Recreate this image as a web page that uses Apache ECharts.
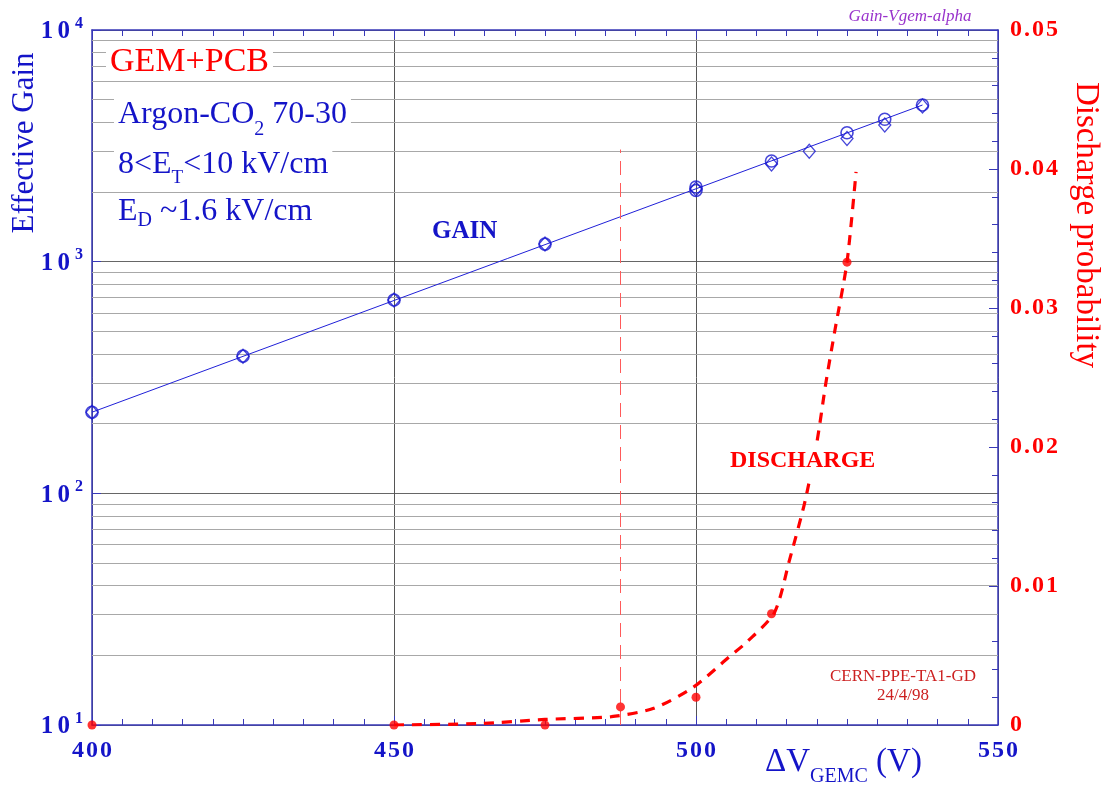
<!DOCTYPE html>
<html><head><meta charset="utf-8">
<script src="https://cdn.jsdelivr.net/npm/echarts@6/dist/echarts.min.js"></script>
<style>html,body{margin:0;padding:0;background:#fff}#c{width:1104px;height:792px}</style>
</head><body><div id="c"></div>
<script>
// ---- data ----
const gainCircleX = [400, 425, 450, 475, 500, 500, 512.5, 525, 531.25, 537.5];
const gainCircleY = [224, 391, 683, 1191, 2100, 2030, 2720, 3600, 4120, 4745];
const gainDiamondX = [400, 425, 450, 475, 500, 512.5, 518.75, 525, 531.25, 537.5];
const gainDiamondY = [224, 391, 683, 1191, 2060, 2640, 3000, 3400, 3890, 4700];
const gainFitX = [400, 537.5];
const gainFitY = [224, 4745];
const dischargeX = [400, 450, 475, 487.5, 500, 512.5, 525];
const dischargeY = [0, 0, 0, 0.0013, 0.002, 0.008, 0.0333];
const dischargeFitX = [450, 464, 475, 486, 493, 499.5, 505.5, 508.5, 513, 515.5, 518, 520, 521.5, 523, 525, 526.5];
const dischargeFitY = [0, 0.0001, 0.0004, 0.0006, 0.0012, 0.0027, 0.0049, 0.006, 0.0081, 0.0119, 0.016, 0.0203, 0.0246, 0.0284, 0.0333, 0.0398];
const thresholdX = 487.5;
const thresholdTop = 0.0414;
const xTicks = [400, 450, 500, 550];
const gainDecades = [10, 100, 1000, 10000];
const minorMultipliers = [2, 3, 4, 5, 6, 7, 8, 9];
const dischargeTicks = [0, 0.01, 0.02, 0.03, 0.04, 0.05];

const zip = (a, b) => a.map((v, i) => [v, b[i]]);
const minorGrid = [];
gainDecades.slice(0, 3).forEach(d => minorMultipliers.forEach(m => minorGrid.push(d * m)));

const BLUE = '#1414c8';
const AXIS = '#3838b8';
const RED = '#ff0000';
const SERIF = '"Liberation Serif", "Times New Roman", serif';
const HS = '\u200A';
const spaced = s => s.split('').join(HS);

const chart = echarts.init(document.getElementById('c'), null, {renderer: 'canvas'});
chart.setOption({
  animation: false,
  backgroundColor: '#fff',
  grid: {left: 92, right: 106, top: 30, bottom: 67, containLabel: false, outerBoundsMode: 'none'},
  xAxis: [{
    type: 'value', position: 'bottom', min: xTicks[0], max: xTicks[xTicks.length - 1], interval: 50,
    axisLine: {show: true, lineStyle: {color: AXIS, width: 1.5}},
    axisTick: {show: true, inside: true, length: 9, lineStyle: {color: AXIS}},
    minorTick: {show: true, splitNumber: 10, length: 6, lineStyle: {color: AXIS}},
    splitLine: {show: true, lineStyle: {color: '#555', width: 1}},
    axisLabel: {show: true, showMinLabel: true, showMaxLabel: true, margin: 14, color: BLUE,
      fontFamily: SERIF, fontWeight: 'bold', fontSize: 24,
      formatter: v => spaced(String(v))}
  }, {
    type: 'value', position: 'top', min: xTicks[0], max: xTicks[xTicks.length - 1], interval: 50,
    axisLine: {show: true, lineStyle: {color: AXIS, width: 1.5}},
    axisTick: {show: true, inside: true, length: 9, lineStyle: {color: AXIS}},
    minorTick: {show: true, splitNumber: 10, length: 6, lineStyle: {color: AXIS}},
    splitLine: {show: false},
    axisLabel: {show: false}
  }],
  yAxis: [{
    type: 'log', logBase: 10, min: gainDecades[0], max: gainDecades[gainDecades.length - 1], position: 'left',
    axisLine: {show: true, lineStyle: {color: AXIS, width: 1.5}},
    axisTick: {show: true, inside: true, length: 9, lineStyle: {color: AXIS}},
    splitLine: {show: true, lineStyle: {color: '#666', width: 1}},
    axisLabel: {show: true, showMinLabel: true, showMaxLabel: true, margin: 9,
      formatter: v => '{b|1' + HS + HS + '0}{s|' + Math.round(Math.log10(v)) + '}',
      rich: {
        b: {fontFamily: SERIF, fontWeight: 'bold', fontSize: 25, color: BLUE, verticalAlign: 'bottom'},
        s: {fontFamily: SERIF, fontWeight: 'bold', fontSize: 16, color: BLUE, verticalAlign: 'bottom', padding: [0, 0, 13, 5]}
      }}
  }, {
    type: 'value', min: 0, max: 0.05, interval: 0.01, position: 'right',
    axisLine: {show: true, lineStyle: {color: AXIS, width: 1.5}},
    axisTick: {show: true, inside: true, length: 9, lineStyle: {color: AXIS}},
    minorTick: {show: true, splitNumber: 5, length: 6, lineStyle: {color: AXIS}},
    splitLine: {show: false},
    axisLabel: {show: true, showMinLabel: true, showMaxLabel: true, margin: 12, color: RED,
      fontFamily: SERIF, fontWeight: 'bold', fontSize: 24,
      formatter: v => v === 0 ? '0' : spaced(v.toFixed(2))}
  }],
  series: [{
    name: 'minor-grid', type: 'line', xAxisIndex: 0, yAxisIndex: 0, z: 1, silent: true,
    data: [[gainFitX[0], gainFitY[0]]], symbol: 'none', lineStyle: {width: 0, opacity: 0},
    markLine: {z: 1, silent: true, symbol: ['none', 'none'], label: {show: false},
      lineStyle: {color: '#a8a8a8', width: 1, type: 'solid'},
      emphasis: {disabled: true},
      data: minorGrid.map(v => ({yAxis: v}))}
  }, {
    name: 'gain-fit', type: 'line', xAxisIndex: 0, yAxisIndex: 0, z: 3,
    data: zip(gainFitX, gainFitY), symbol: 'none',
    lineStyle: {color: '#2020d8', width: 1}
  }, {
    name: 'gain-circle', type: 'scatter', xAxisIndex: 0, yAxisIndex: 0, z: 4, clip: false,
    data: zip(gainCircleX, gainCircleY), symbol: 'circle', symbolSize: 12,
    itemStyle: {color: 'rgba(0,0,0,0)', borderColor: '#1818d0', borderWidth: 1.6}
  }, {
    name: 'gain-diamond', type: 'scatter', xAxisIndex: 0, yAxisIndex: 0, z: 4, clip: false,
    data: zip(gainDiamondX, gainDiamondY), symbol: 'diamond', symbolSize: [12, 14],
    itemStyle: {color: 'rgba(0,0,0,0)', borderColor: '#1818d0', borderWidth: 1.3}
  }, {
    name: 'discharge-fit', type: 'line', xAxisIndex: 0, yAxisIndex: 1, z: 5,
    data: zip(dischargeFitX, dischargeFitY), symbol: 'none', smooth: 0.25,
    lineStyle: {color: RED, width: 3.2, type: [10, 8]},
    markLine: {silent: true, symbol: ['none', 'none'], label: {show: false},
      lineStyle: {color: '#ff5a5a', width: 1, type: [14, 8]},
      data: [[{coord: [thresholdX, 0]}, {coord: [thresholdX, thresholdTop]}]]}
  }, {
    name: 'discharge', type: 'scatter', xAxisIndex: 0, yAxisIndex: 1, z: 6, clip: false,
    data: zip(dischargeX, dischargeY), symbol: 'circle', symbolSize: 9,
    itemStyle: {color: RED}
  }],
  graphic: [
    {type: 'text', z: 100, x: 106, y: 62, style: {text: 'GEM+PCB', font: '34px ' + SERIF, fill: RED,
      verticalAlign: 'middle', align: 'left', backgroundColor: '#fff', padding: [2, 4]}},
    {type: 'text', z: 100, x: 114, y: 99, style: {text: '{m|Argon-CO}{s|2}{m| 70-30}', fill: BLUE,
      font: '32px ' + SERIF, backgroundColor: '#fff', padding: [0, 4], verticalAlign: 'top', align: 'left',
      rich: {m: {fontSize: 32, fontFamily: SERIF, fill: BLUE, verticalAlign: 'top'},
             s: {fontSize: 20, fontFamily: SERIF, fill: BLUE, verticalAlign: 'top', padding: [21, 0, 0, 0]}}}},
    {type: 'text', z: 100, x: 114, y: 149, style: {text: '{m|8<E}{s|T}{m|<10 kV/cm}', fill: BLUE,
      font: '32px ' + SERIF, backgroundColor: '#fff', padding: [0, 4], verticalAlign: 'top', align: 'left',
      rich: {m: {fontSize: 32, fontFamily: SERIF, fill: BLUE, verticalAlign: 'top'},
             s: {fontSize: 19, fontFamily: SERIF, fill: BLUE, verticalAlign: 'top', padding: [20, 0, 0, 0]}}}},
    {type: 'text', z: 100, x: 114, y: 196, style: {text: '{m|E}{s|D}{m| ~1.6 kV/cm}', fill: BLUE,
      font: '32px ' + SERIF, backgroundColor: '#fff', padding: [0, 4], verticalAlign: 'top', align: 'left',
      rich: {m: {fontSize: 32, fontFamily: SERIF, fill: BLUE, verticalAlign: 'top'},
             s: {fontSize: 20, fontFamily: SERIF, fill: BLUE, verticalAlign: 'top', padding: [15, 0, 0, 0]}}}},
    {type: 'text', z: 100, x: 432, y: 232, style: {text: 'GAIN', font: 'bold 25px ' + SERIF, fill: BLUE,
      verticalAlign: 'middle', align: 'left'}},
    {type: 'text', z: 100, x: 728, y: 461, style: {text: 'DISCHARGE', font: 'bold 24px ' + SERIF, fill: RED,
      verticalAlign: 'middle', align: 'left', backgroundColor: '#fff', padding: [6, 2]}},
    {type: 'text', z: 100, x: 903, y: 677, style: {text: 'CERN-PPE-TA1-GD', font: '17px ' + SERIF, fill: '#cc2020',
      verticalAlign: 'middle', align: 'center'}},
    {type: 'text', z: 100, x: 903, y: 696, style: {text: '24/4/98', font: '17px ' + SERIF, fill: '#cc2020',
      verticalAlign: 'middle', align: 'center'}},
    {type: 'text', z: 100, x: 910, y: 17, style: {text: 'Gain-Vgem-alpha', font: 'italic 17px ' + SERIF, fill: '#9933cc',
      verticalAlign: 'middle', align: 'center'}},
    {type: 'text', z: 100, x: 25, y: 143, rotation: Math.PI / 2, style: {text: 'Effective Gain', font: '31px ' + SERIF,
      fill: BLUE, verticalAlign: 'middle', align: 'center'}},
    {type: 'text', z: 100, x: 1086, y: 225, rotation: -Math.PI / 2, style: {text: 'Discharge probability', font: '33px ' + SERIF,
      fill: RED, verticalAlign: 'middle', align: 'center'}},
    {type: 'text', z: 100, x: 765, y: 746, style: {text: '{m|\u0394V}{s|GEMC}{m| (V)}', fill: BLUE,
      font: '33px ' + SERIF, verticalAlign: 'top', align: 'left',
      rich: {m: {fontSize: 33, fontFamily: SERIF, fill: BLUE, verticalAlign: 'top'},
             s: {fontSize: 20, fontFamily: SERIF, fill: BLUE, verticalAlign: 'top', padding: [21, 0, 0, 0]}}}}
  ]
});
</script>
</body></html>
